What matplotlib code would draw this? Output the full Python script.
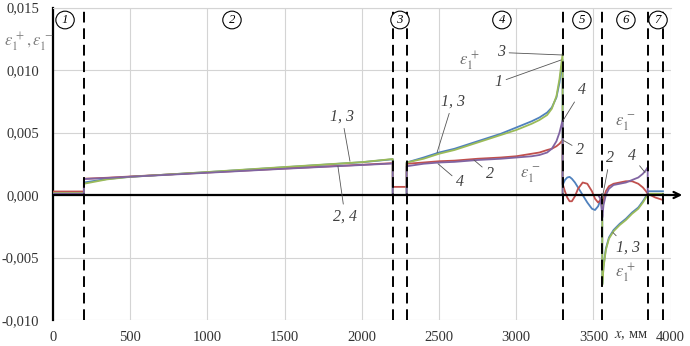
import matplotlib
matplotlib.use("Agg")
import matplotlib.pyplot as plt
from matplotlib.ticker import FuncFormatter, MultipleLocator

# coordinate along the part, mm (boundary points repeated so the curves jump)
x = [0, 200,
     200, 350, 500, 1000, 1500, 2000, 2200,
     2200, 2290,
     2290, 2400, 2500, 2600, 2750, 2900, 3000, 3100, 3150, 3200, 3230, 3260, 3280, 3300,
     3300, 3315, 3330, 3345, 3360, 3380, 3400, 3430, 3460, 3490, 3510, 3530, 3545, 3557,
     3557, 3565, 3580, 3600, 3630, 3670, 3710, 3750, 3790, 3820, 3840, 3851,
     3851, 3900, 3950]

eps_1 = [0.0001, 0.0001,
         0.0010, 0.00128, 0.00146, 0.00183, 0.00222, 0.00262, 0.00286,
         0.0, 0.0,
         0.0026, 0.0030, 0.0034, 0.0037, 0.0043, 0.0049, 0.0054, 0.0059, 0.0062, 0.0066, 0.0070, 0.0078, 0.0090, 0.0108,
         0.0008, 0.0012, 0.0014, 0.00145, 0.0013, 0.0010, 0.0006, 0.0, -0.0006, -0.0011, -0.0012, -0.0009, -0.0004, -0.0001,
         -0.0071, -0.0057, -0.0043, -0.0034, -0.0028, -0.0023, -0.0019, -0.0014, -0.0010, -0.0005, -0.0001, 0.0001,
         0.0003, 0.0003, 0.0003]

eps_2 = [0.00028, 0.00028,
         0.0013, 0.00138, 0.00148, 0.0018, 0.00212, 0.00242, 0.00255,
         0.00065, 0.00065,
         0.0025, 0.0026, 0.0027, 0.00275, 0.0029, 0.0030, 0.0031, 0.0033, 0.0034, 0.0036, 0.0037, 0.0039, 0.0041, 0.0044,
         0.0009, 0.0003, -0.0002, -0.0005, -0.0005, -0.0001, 0.0005, 0.0010, 0.0009, 0.0003, -0.0003, -0.0006, -0.0004, -0.0002,
         -0.0008, -0.0003, 0.0003, 0.0007, 0.0009, 0.0010, 0.0011, 0.0011, 0.0009, 0.0006, 0.0003, 0.0001,
         0.0001, -0.0002, -0.0004]

eps_3 = [0.00015, 0.00015,
         0.0009, 0.00125, 0.00145, 0.00184, 0.00224, 0.00263, 0.00288,
         0.0, 0.0,
         0.0026, 0.0029, 0.0033, 0.0036, 0.0042, 0.0048, 0.0052, 0.0057, 0.0060, 0.0064, 0.0069, 0.0079, 0.0093, 0.0113,
         0.0, 0.0, 0.0, 0.0, 0.0, 0.0, 0.0, 0.0, 0.0, 0.0, 0.0, 0.0, 0.0, 0.0,
         -0.0072, -0.0058, -0.0044, -0.0035, -0.0029, -0.0024, -0.0020, -0.0015, -0.0011, -0.0006, -0.0002, 0.0,
         0.0001, 0.0001, 0.0001]

eps_4 = [0.0001, 0.0001,
         0.00128, 0.00136, 0.00146, 0.00178, 0.0021, 0.0024, 0.00252,
         0.0, 0.0,
         0.0023, 0.0025, 0.0026, 0.00265, 0.0028, 0.0029, 0.0030, 0.0031, 0.0032, 0.0034, 0.0037, 0.0043, 0.0050, 0.0060,
         0.0, 0.0, 0.0, 0.0, 0.0, 0.0, 0.0, 0.0, 0.0, 0.0, 0.0, 0.0, -0.0003, -0.0016,
         -0.0018, -0.0008, 0.0, 0.0005, 0.0008, 0.0009, 0.0010, 0.0012, 0.0014, 0.0017, 0.0020, 0.0022,
         0.0, 0.0, 0.0]

series = [eps_1, eps_2, eps_3, eps_4]
colors = ["#4F81BD", "#C0504D", "#9BBB59", "#8064A2"]

boundaries = [200, 2200, 2290, 3300, 3557, 3851, 3950]
zone_names = ["1", "2", "3", "4", "5", "6", "7"]
zone_x = [78, 1159, 2247, 2907, 3425, 3710, 3918]

# curve labels: text, text position, point on curve
callouts = [
    ("1, 3", (1871, 0.0063), (1923, 0.0027)),
    ("2, 4", (1891, -0.0017), (1845, 0.0023)),
    ("1, 3", (2590, 0.0075), (2487, 0.0034)),
    ("4", (2635, 0.0010), (2493, 0.0025)),
    ("2", (2830, 0.0017), (2726, 0.0028)),
    ("3", (2901, 0.0114), (3300, 0.0112)),
    ("1", (2882, 0.0090), (3290, 0.0108)),
    ("4", (3425, 0.0084), (3300, 0.0059)),
    ("2", (3413, 0.0036), (3300, 0.0044)),
    ("2", (3607, 0.0030), (3556, -0.0003)),
    ("4", (3749, 0.0031), (3834, 0.0018)),
    ("1, 3", (3723, -0.0042), (3626, -0.0030)),
]
eps_labels = [
    (r"$\varepsilon_1^{\,+}$", (2700, 0.0107)),
    (r"$\varepsilon_1^{\,-}$", (3089, 0.0016)),
    (r"$\varepsilon_1^{\,-}$", (3704, 0.0057)),
    (r"$\varepsilon_1^{\,+}$", (3710, -0.0063)),
]

plt.rcParams["font.family"] = ["Liberation Serif", "DejaVu Serif"]
plt.rcParams["mathtext.fontset"] = "stix"

fig = plt.figure(figsize=(6.9, 3.46), dpi=100)
ax = fig.add_axes([53 / 690, 26 / 346, 617.7 / 690, 312.5 / 346])

for ys, c in zip(series, colors):
    ax.plot(x, ys, color=c, lw=1.3, zorder=3)

for b in boundaries:
    ax.axvline(b, color="black", lw=1.4, ls=(0, (5.5, 3)), zorder=4)

ax.set_xlim(0, 4000)
ax.set_ylim(-0.010, 0.015)
ax.xaxis.set_major_locator(MultipleLocator(500))
ax.yaxis.set_major_locator(MultipleLocator(0.005))
ax.yaxis.set_major_formatter(FuncFormatter(lambda v, p: f"{v:.3f}".replace(".", ",")))
ax.tick_params(length=0, labelsize=10.5, colors="#333333")
ax.tick_params(axis="y", pad=10)
ax.tick_params(axis="x", pad=8)
ax.grid(color="#d4d4d4", lw=0.8)
ax.set_axisbelow(True)

for s in ["bottom", "right"]:
    ax.spines[s].set_visible(False)
ax.spines["top"].set_color("#d4d4d4")
ax.spines["left"].set_linewidth(1.6)
ax.spines["left"].set_color("black")

ax.annotate("", xy=(4075, 0), xytext=(0, 0), annotation_clip=False, zorder=6,
            arrowprops=dict(arrowstyle="->,head_length=0.45,head_width=0.22",
                            color="black", lw=1.6, shrinkA=0, shrinkB=0))

for name, zx in zip(zone_names, zone_x):
    ax.text(zx, 0.0140, f" {name} ", ha="center", va="center", fontsize=9, style="italic",
            zorder=7, bbox=dict(boxstyle="ellipse,pad=0.02", fc="white", ec="black", lw=0.8))

for txt, tpos, pt in callouts:
    ax.annotate(txt, xy=pt, xytext=tpos, ha="center", va="center", fontsize=11.5,
                style="italic", color="#404040", zorder=7,
                arrowprops=dict(arrowstyle="-", color="#555555", lw=0.6, shrinkA=1, shrinkB=0))

for txt, pos in eps_labels:
    ax.text(pos[0], pos[1], txt, ha="center", va="center", fontsize=12, color="#707070", zorder=7)

fig.text(29 / 690, 1 - 42 / 346, r"$\varepsilon_1^{\,+}, \varepsilon_1^{\,-}$", ha="center",
         va="center", fontsize=12, color="#808080")
fig.text(631 / 690, 1 - 336 / 346, r"$x$, мм", ha="center", va="center", fontsize=10.5,
         color="#333333")

fig.savefig("out.png", dpi=100)
